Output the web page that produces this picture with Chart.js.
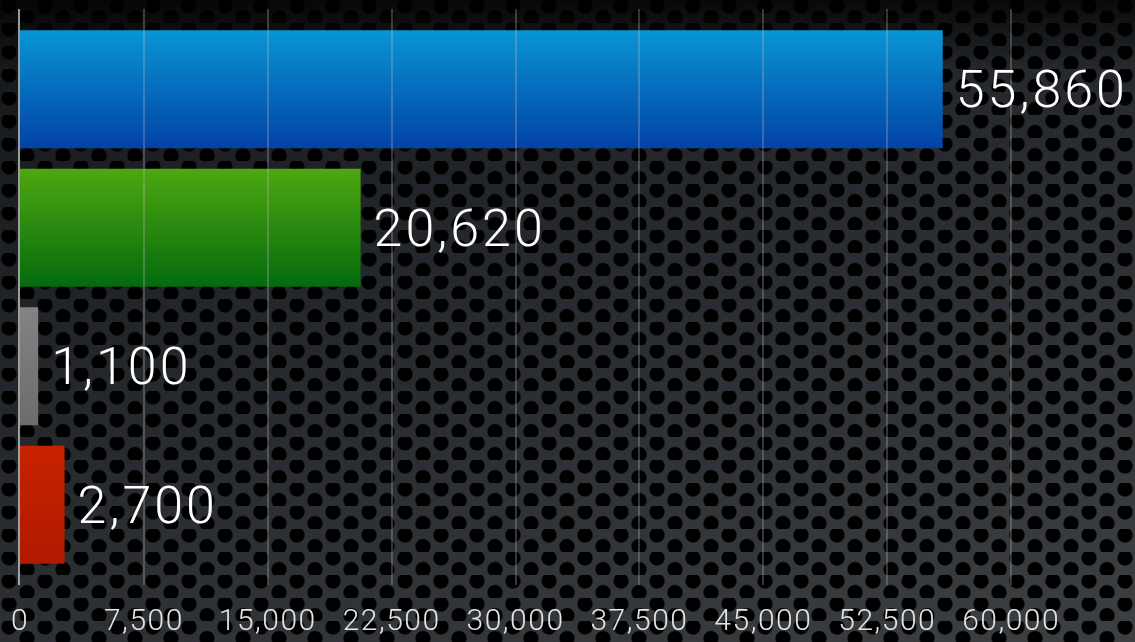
<!DOCTYPE html>
<html lang="en">
<head>
    <meta charset="UTF-8">
    <title>Bar chart</title>
    <script src="https://cdn.jsdelivr.net/npm/chart.js"></script>
    <style>
        html, body { margin: 0; padding: 0; }
        body {
            width: 1135px;
            height: 642px;
            overflow: hidden;
            /* perforated metal backdrop */
            background:
                linear-gradient(to bottom, rgba(0,0,0,0.75) 0px, rgba(0,0,0,0) 70px),
                radial-gradient(circle at 9px 6px, #000 0 6.8px, rgba(0,0,0,0) 8.3px) 0 0 / 36px 23px,
                radial-gradient(circle at 27px 17.5px, #000 0 6.8px, rgba(0,0,0,0) 8.3px) 0 0 / 36px 23px,
                linear-gradient(160deg, #14171a 0%, #262a2e 45%, #3c4043 100%);
        }
        #wrap { position: relative; width: 1135px; height: 642px; }
    </style>
</head>
<body>
<div id="wrap">
    <canvas id="barChart" width="1135" height="642"></canvas>
</div>
<script>
    // chart data
    const categories = ['Blue', 'Green', 'Gray', 'Red'];
    const values = [55860, 20620, 1100, 2700];
    const xMin = 0;
    const xMax = 67500;
    const xStep = 7500;

    // top / bottom colour of each bar's gradient
    const topColors = ['#0896d4', '#4ea810', '#838383', '#c82200'];
    const bottomColors = ['#0342a6', '#046a0e', '#6c6c6c', '#b01a00'];

    const fmt = v => v.toLocaleString('en-US');
    const fontFamily = 'Roboto, "Liberation Sans", sans-serif';

    // gradient fill, computed from the category scale
    function barFill(context) {
        const i = context.dataIndex;
        const chart = context.chart;
        const area = chart.chartArea;
        if (!area || !chart.scales.y) return topColors[i];
        const yScale = chart.scales.y;
        const yc = yScale.getPixelForValue(i);
        const half = (area.bottom - area.top) / categories.length * 0.852 / 2;
        const g = chart.ctx.createLinearGradient(0, yc - half, 0, yc + half);
        g.addColorStop(0, topColors[i]);
        g.addColorStop(1, bottomColors[i]);
        return g;
    }

    // a little letter spacing so the light font runs as wide as the original
    const spacing = {
        id: 'spacing',
        beforeDraw(chart) { chart.ctx.letterSpacing = '1.5px'; },
        afterDraw(chart) { chart.ctx.letterSpacing = '0px'; }
    };

    // vertical grid lines drawn over the bars, a bit taller than the plot area
    const gridOverlay = {
        id: 'gridOverlay',
        afterDatasetsDraw(chart) {
            const ctx = chart.ctx;
            const x = chart.scales.x;
            ctx.save();
            x.ticks.forEach(t => {
                if (t.value >= xMax) return;
                const zero = t.value === 0;
                const px = Math.round(x.getPixelForValue(t.value)) - (zero ? 1 : 0);
                ctx.beginPath();
                ctx.lineWidth = zero ? 2 : 1.5;
                ctx.strokeStyle = zero ? 'rgba(200,200,200,0.75)' : 'rgba(190,190,190,0.38)';
                ctx.moveTo(px, 9);
                ctx.lineTo(px, 585);
                ctx.stroke();
            });
            ctx.restore();
        }
    };

    // value labels at the end of each bar
    const valueLabels = {
        id: 'valueLabels',
        afterDatasetsDraw(chart) {
            const ctx = chart.ctx;
            const meta = chart.getDatasetMeta(0);
            ctx.save();
            ctx.font = '300 52px ' + fontFamily;
            ctx.letterSpacing = '3px';
            ctx.fillStyle = '#ffffff';
            ctx.textAlign = 'left';
            ctx.textBaseline = 'middle';
            meta.data.forEach((bar, i) => {
                ctx.fillText(fmt(values[i]), bar.x + 13, bar.y + 5);
            });
            ctx.restore();
        }
    };

    const ctx = document.getElementById('barChart').getContext('2d');
    new Chart(ctx, {
        type: 'bar',
        data: {
            labels: categories,
            datasets: [{
                data: values,
                backgroundColor: barFill,
                borderWidth: 0,
                barPercentage: 0.852,
                categoryPercentage: 1
            }]
        },
        options: {
            indexAxis: 'y',
            responsive: false,
            animation: false,
            layout: { padding: { left: 20, top: 20, right: 0, bottom: 0 } },
            plugins: {
                legend: { display: false },
                tooltip: { enabled: false }
            },
            scales: {
                x: {
                    min: xMin,
                    max: xMax,
                    grid: { display: false },
                    border: { display: false },
                    afterFit(scale) {
                        scale.height = 68;
                        scale.paddingLeft = 0;
                        scale.paddingRight = 0;
                    },
                    ticks: {
                        stepSize: xStep,
                        autoSkip: false,
                        maxRotation: 0,
                        padding: 22,
                        color: '#e4e4e4',
                        font: { family: fontFamily, size: 30, weight: 300 },
                        callback: v => (v >= xMax ? '' : fmt(v))
                    }
                },
                y: {
                    display: false
                }
            }
        },
        plugins: [spacing, gridOverlay, valueLabels]
    });
</script>
</body>
</html>
